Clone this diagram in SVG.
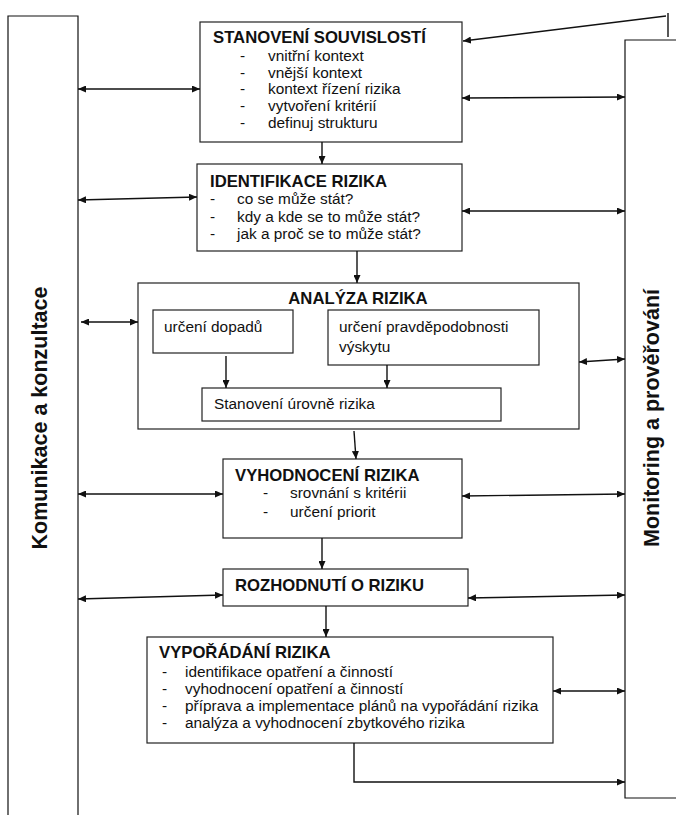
<svg xmlns="http://www.w3.org/2000/svg" width="676" height="815" viewBox="0 0 676 815">
<style>
.box{fill:#fff;stroke:#222;stroke-width:1.2}
.ln{fill:none;stroke:#111;stroke-width:1.4}
.t{font-family:"Liberation Sans",Arial,sans-serif;font-size:15.4px;fill:#111}
.h{font-family:"Liberation Sans",Arial,sans-serif;font-size:16.7px;font-weight:bold;fill:#111}
.v{font-family:"Liberation Sans",Arial,sans-serif;font-size:21.5px;font-weight:bold;fill:#111}
</style>
<defs>
<marker id="ah" viewBox="0 0 8 7" refX="8" refY="3.5" markerWidth="8" markerHeight="7" markerUnits="userSpaceOnUse" orient="auto-start-reverse">
<path d="M0,0 L8,3.5 L0,7 Z" fill="#111"/>
</marker>
</defs>
<rect width="676" height="815" fill="#fff"/>

<g id="komunikace">
<path class="ln" d="M8,815 V16 H78 V815" style="stroke-width:1.2"/>
<text class="v" transform="translate(47,418) rotate(-90)" text-anchor="middle">Komunikace a konzultace</text>
</g>

<g id="monitoring">
<path class="ln" d="M676,40 H625 V798 H676" style="stroke-width:1.2"/>
<text class="v" transform="translate(659,418) rotate(-90)" text-anchor="middle">Monitoring a prověřování</text>
</g>

<g id="stanoveni">
<rect class="box" x="200" y="22" width="262" height="120"/>
<text class="h" x="213" y="43">STANOVENÍ SOUVISLOSTÍ</text>
<text class="t" x="240" y="61">-</text><text class="t" x="268" y="61">vnitřní kontext</text>
<text class="t" x="240" y="77.5">-</text><text class="t" x="268" y="77.5">vnější kontext</text>
<text class="t" x="240" y="94">-</text><text class="t" x="268" y="94">kontext řízení rizika</text>
<text class="t" x="240" y="111">-</text><text class="t" x="268" y="111">vytvoření kritérií</text>
<text class="t" x="240" y="128">-</text><text class="t" x="268" y="128">definuj strukturu</text>
</g>

<g id="identifikace">
<rect class="box" x="197" y="164" width="265" height="87"/>
<text class="h" x="210" y="187">IDENTIFIKACE RIZIKA</text>
<text class="t" x="210" y="204">-</text><text class="t" x="237" y="204">co se může stát?</text>
<text class="t" x="210" y="221.5">-</text><text class="t" x="237" y="221.5">kdy a kde se to může stát?</text>
<text class="t" x="210" y="239">-</text><text class="t" x="237" y="239">jak a proč se to může stát?</text>
</g>

<g id="analyza">
<rect class="box" x="138" y="283" width="441" height="146"/>
<text class="h" x="358" y="304" text-anchor="middle">ANALÝZA RIZIKA</text>
</g>

<g id="dopady">
<rect class="box" x="153" y="310" width="140" height="43"/>
<text class="t" x="164" y="332">určení dopadů</text>
</g>

<g id="pravdepodobnost">
<rect class="box" x="328" y="310" width="211" height="55"/>
<text class="t" x="339" y="332">určení pravděpodobnosti</text>
<text class="t" x="339" y="352">výskytu</text>
</g>

<g id="uroven">
<rect class="box" x="202" y="388" width="299" height="33"/>
<text class="t" x="214" y="409">Stanovení úrovně rizika</text>
</g>

<g id="vyhodnoceni">
<rect class="box" x="223" y="459" width="239" height="79"/>
<text class="h" x="235" y="481">VYHODNOCENÍ RIZIKA</text>
<text class="t" x="263" y="498">-</text><text class="t" x="290" y="498">srovnání s kritérii</text>
<text class="t" x="263" y="517">-</text><text class="t" x="290" y="517">určení priorit</text>
</g>

<g id="rozhodnuti">
<rect class="box" x="223" y="569" width="245" height="37"/>
<text class="h" x="235" y="591">ROZHODNUTÍ O RIZIKU</text>
</g>

<g id="vyporadani">
<rect class="box" x="147" y="637" width="406" height="106"/>
<text class="h" x="159" y="658">VYPOŘÁDÁNÍ RIZIKA</text>
<text class="t" x="162" y="677">-</text><text class="t" x="185" y="677">identifikace opatření a činností</text>
<text class="t" x="162" y="694">-</text><text class="t" x="185" y="694">vyhodnocení opatření a činností</text>
<text class="t" x="162" y="711">-</text><text class="t" x="185" y="711">příprava a implementace plánů na vypořádání rizika</text>
<text class="t" x="162" y="728">-</text><text class="t" x="185" y="728">analýza a vyhodnocení zbytkového rizika</text>
</g>

<g id="connectors">
<line class="ln" x1="322" y1="142" x2="322" y2="164" marker-end="url(#ah)"/>
<line class="ln" x1="357" y1="251" x2="357" y2="283" marker-end="url(#ah)"/>
<line class="ln" x1="226" y1="356" x2="226" y2="388" marker-end="url(#ah)"/>
<line class="ln" x1="387" y1="365" x2="387" y2="388" marker-end="url(#ah)"/>
<line class="ln" x1="354" y1="431" x2="356" y2="459" marker-end="url(#ah)"/>
<line class="ln" x1="322" y1="538" x2="322" y2="569" marker-end="url(#ah)"/>
<line class="ln" x1="326" y1="606" x2="326" y2="637" marker-end="url(#ah)"/>
<path class="ln" d="M354,743 V782 H625" marker-end="url(#ah)"/>
<path class="ln" d="M668,13 V37"/>
<line class="ln" x1="666" y1="16" x2="463" y2="41" marker-end="url(#ah)"/>
<line class="ln" x1="78" y1="89" x2="200" y2="89" marker-start="url(#ah)" marker-end="url(#ah)"/>
<line class="ln" x1="78" y1="200" x2="197" y2="197" marker-start="url(#ah)" marker-end="url(#ah)"/>
<line class="ln" x1="81" y1="322" x2="138" y2="322" marker-start="url(#ah)" marker-end="url(#ah)"/>
<line class="ln" x1="78" y1="494" x2="223" y2="494" marker-start="url(#ah)" marker-end="url(#ah)"/>
<line class="ln" x1="78" y1="599" x2="223" y2="595" marker-start="url(#ah)" marker-end="url(#ah)"/>
<line class="ln" x1="462" y1="98" x2="625" y2="97" marker-start="url(#ah)" marker-end="url(#ah)"/>
<line class="ln" x1="462" y1="211" x2="625" y2="211" marker-start="url(#ah)" marker-end="url(#ah)"/>
<line class="ln" x1="579" y1="362" x2="625" y2="359" marker-start="url(#ah)" marker-end="url(#ah)"/>
<line class="ln" x1="462" y1="496" x2="625" y2="494" marker-start="url(#ah)" marker-end="url(#ah)"/>
<line class="ln" x1="468" y1="598" x2="625" y2="595" marker-start="url(#ah)" marker-end="url(#ah)"/>
<line class="ln" x1="553" y1="691" x2="625" y2="691" marker-start="url(#ah)" marker-end="url(#ah)"/>
</g>
</svg>
